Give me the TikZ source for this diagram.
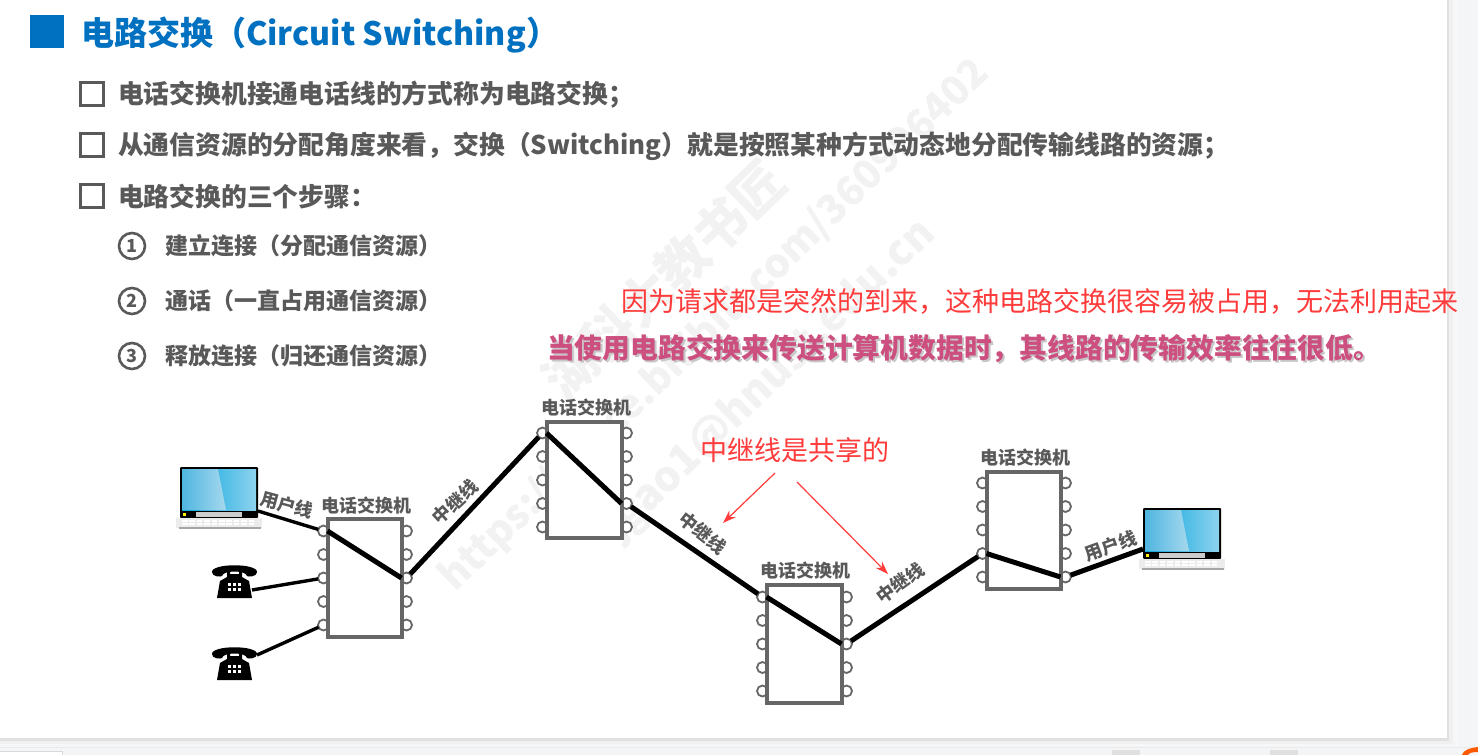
\documentclass[tikz,border=0pt]{standalone}
\usepackage{fontspec}
\setmainfont{Noto Sans CJK SC}
\usetikzlibrary{arrows.meta}
\definecolor{blueT}{HTML}{0070C0}
\definecolor{greyT}{HTML}{595959}
\definecolor{redT}{HTML}{FF3B3B}
\definecolor{pinkT}{HTML}{CC4F80}
\definecolor{wm}{HTML}{F2F2F2}
\definecolor{portG}{HTML}{666666}
\definecolor{pageBg}{HTML}{F4F5F7}
\definecolor{scrA}{HTML}{4FB6E0}
\definecolor{scrB}{HTML}{A6D8EE}
\definecolor{scrC}{HTML}{00A3DC}
\definecolor{scrD}{HTML}{8ED2EE}
\newcommand{\fs}[1]{\fontsize{#1}{#1}\selectfont}
\tikzset{
  txt/.style={anchor=base west,inner sep=0pt,outer sep=0pt},
  head/.style={txt,font=\fs{25.8}\bfseries,text=greyT},
  sub/.style={txt,font=\fs{23}\bfseries,text=greyT},
  num/.style={circle,draw=greyT,line width=2.6pt,minimum size=26pt,inner sep=0pt,font=\fs{18}\bfseries,text=greyT},
  redtxt/.style={txt,font=\fs{27},text=redT},
  lab/.style={inner sep=0pt,font=\fs{18}\bfseries,text=greyT},
  wmk/.style={inner sep=0pt,text=wm,font=\fs{#1}\bfseries,rotate=44},
  port/.style={circle,draw=portG,line width=1.8pt,fill=white,minimum size=11pt,inner sep=0pt,outer sep=0pt},
  box/.style={draw=portG,line width=3.6pt,fill=white},
  trunk/.style={line width=5pt,black},
  inner/.style={line width=5pt,black},
  thin/.style={line width=3.4pt,black},
  redarrow/.style={draw=redT,line width=1.2pt,-{Stealth[length=13pt,width=9pt]}},
  laptop/.pic={
    \fill[black,rounded corners=1pt] (0,0) rectangle (78,51);
    \shade[left color=scrC,right color=scrD] (2,2) rectangle (76,43);
    \shade[left color=scrA,right color=scrB] (2,2) -- (38,2) -- (46,43) -- (2,43) -- cycle;
    \fill[yellow] (3,46) rectangle (6,49);
    \fill[gray!40] (16,45) rectangle (62,50);
    \fill[gray!15] (-4,51) -- (82,51) -- (82,61) -- (-4,61) -- cycle;
    \fill[gray!70] (-1,60) rectangle (81,62);
    \foreach \i in {0,...,9}{\fill[white] (2+\i*7.4,52.5) rectangle (7.5+\i*7.4,54.5);\fill[white] (2+\i*7.4,55.5) rectangle (7.5+\i*7.4,57.5);}
  },
  phone/.pic={
    \fill[black] (0,9) .. controls (0,0) and (45,0) .. (45,9) .. controls (45,14) and (36,14) .. (35,13) .. controls (34,7) and (11,7) .. (10,13) .. controls (9,14) and (0,14) .. (0,9) -- cycle;
    \fill[black] (5,35) -- (8,18) -- (15,14) -- (15,8) -- (18,8) -- (18,11) -- (27,11) -- (27,8) -- (30,8) -- (30,14) -- (37,18) -- (40,35) -- cycle;
    \foreach \a in {16,21,26}{\foreach \b in {20,25}{\fill[white] (\a,\b) rectangle (\a+3,\b+3);}}
  },
}
\begin{document}
\begin{tikzpicture}[x=1pt,y=-1pt]
\useasboundingbox (0,0) rectangle (1478,755);
% page
\fill[pageBg] (0,0) rectangle (1478,755);
\fill[black!3] (0,0) rectangle (1458,746);
\fill[black!6] (0,0) rectangle (1453,744);
\fill[black!12] (0,0) rectangle (1449,741);
\fill[white] (0,0) rectangle (1447,738);
\draw[black!8,line width=.8pt] (0,747) -- (1478,747);
\draw[black!15,fill=white,line width=.6pt] (-2,751) rectangle (62,757);
\fill[black!12] (1112,750) rectangle (1140,755);
\fill[black!12] (1270,750) rectangle (1298,755);
\fill[orange!70!red] (1462,755) .. controls (1463,750) and (1470,748) .. (1478,747) -- (1478,752) .. controls (1472,752) and (1469,753) .. (1468,755) -- cycle;
% watermark
\node[wmk=52] (wm1) at (664,280) {湖科大教书匠};
\node[wmk=40] (wm2) at (715,325) {https://space.bilibili.com/360996402};
\node[wmk=42] (wm3) at (770,380) {jgao1@hnust.edu.cn};
% title
\fill[blueT] (30,15) rectangle (64,48);
\node[txt,font=\fs{33}\bfseries,text=blueT] (title) at (81,45) {电路交换（{\fs{32.2}Circuit Switching}）};
% bullets
\foreach \y in {82,133,184}{\draw[greyT,line width=3pt] (80,\y) rectangle (103,\y+23);}
\node[head] (h1) at (118,103) {电话交换机接通电话线的方式称为电路交换；};
\node[head] (h2) at (118,154) {从通信资源的分配角度来看，交换（Switching）就是按照某种方式动态地分配传输线路的资源；};
\node[head] (h3) at (118,206) {电路交换的三个步骤：};
\node[num] (n1) at (132,246) {1};
\node[num] (n2) at (132,301) {2};
\node[num] (n3) at (132,356) {3};
\node[sub] (s1) at (165,254) {建立连接（分配通信资源）};
\node[sub] (s2) at (165,309) {通话（一直占用通信资源）};
\node[sub] (s3) at (165,364) {释放连接（归还通信资源）};
% red notes
\node[txt,font=\fs{27},text=redT] (r1) at (621,311) {因为请求都是突然的到来，这种电路交换很容易被占用，无法利用起来};
\node[txt,font=\fs{27.8}\bfseries,text=black!22] (p0) at (549,360) {当使用电路交换来传送计算机数据时，其线路的传输效率往往很低。};
\node[txt,font=\fs{27.8}\bfseries,text=pinkT] (p1) at (547,358) {当使用电路交换来传送计算机数据时，其线路的传输效率往往很低。};
\node[redtxt] (r2) at (700,460) {中继线是共享的};
% switches: ports first, then the box over them
\foreach \n/\l/\r/\t/\b/\yy in {a/328/402/519/637/531,b/547/622/422/538/433,c/767/842/585/703/597,d/987/1061/472/589/483}{
  \foreach \i in {1,...,5}{
    \node[port] (\n L\i) at (\l-4.5,\yy+\i*23.5-23.5) {};
    \node[port] (\n R\i) at (\r+4.5,\yy+\i*23.5-23.5) {};
  }
  \draw[box] (\l,\t) rectangle (\r,\b);
}
\node[lab] (la) at (366,506) {电话交换机};
\node[lab] (lb) at (586,408) {电话交换机};
\node[lab] (lc) at (805,571) {电话交换机};
\node[lab] (ld) at (1025,458) {电话交换机};
% devices
\pic at (180,467) {laptop};
\pic at (1143,508) {laptop};
\pic at (212,563) {phone};
\pic at (212,645) {phone};
\coordinate (lap1) at (258,511);
\coordinate (lap2) at (1143,549);
\coordinate (ph1) at (252,590);
\coordinate (ph2) at (257,655);
% connectors
\draw[thin] (lap1) -- (aL1);
\draw[thin] (ph1) -- (aL3);
\draw[thin] (ph2) -- (aL5);
\draw[inner] ([xshift=4pt]aL1.center) -- ([xshift=-5pt]aR3.center);
\draw[trunk] (aR3) -- (bL1);
\draw[inner] ([xshift=4pt]bL1.center) -- ([xshift=-5pt]bR4.center);
\draw[trunk] (bR4) -- (cL1);
\draw[inner] ([xshift=4pt]cL1.center) -- ([xshift=-5pt]cR3.center);
\draw[trunk] (cR3) -- (dL4);
\draw[inner] ([xshift=4pt]dL4.center) -- ([xshift=-5pt]dR5.center);
\draw[trunk] (dR5) -- (lap2);
% rotated labels
\node[lab,rotate=-15] (u1) at (287,505) {用户线};
\node[lab,rotate=20] (u2) at (1111,546) {用户线};
\node[lab,rotate=43] (t1) at (455,502) {中继线};
\node[lab,rotate=-38] (t2) at (703,533) {中继线};
\node[lab,rotate=36] (t3) at (900,583) {中继线};
% red arrows
\coordinate (ra1) at (775,473);
\coordinate (ta1) at (723,523);
\coordinate (ra2) at (797,482);
\coordinate (ta2) at (888,574);
\draw[redarrow] (ra1) -- (ta1);
\draw[redarrow] (ra2) -- (ta2);
\end{tikzpicture}
\end{document}
